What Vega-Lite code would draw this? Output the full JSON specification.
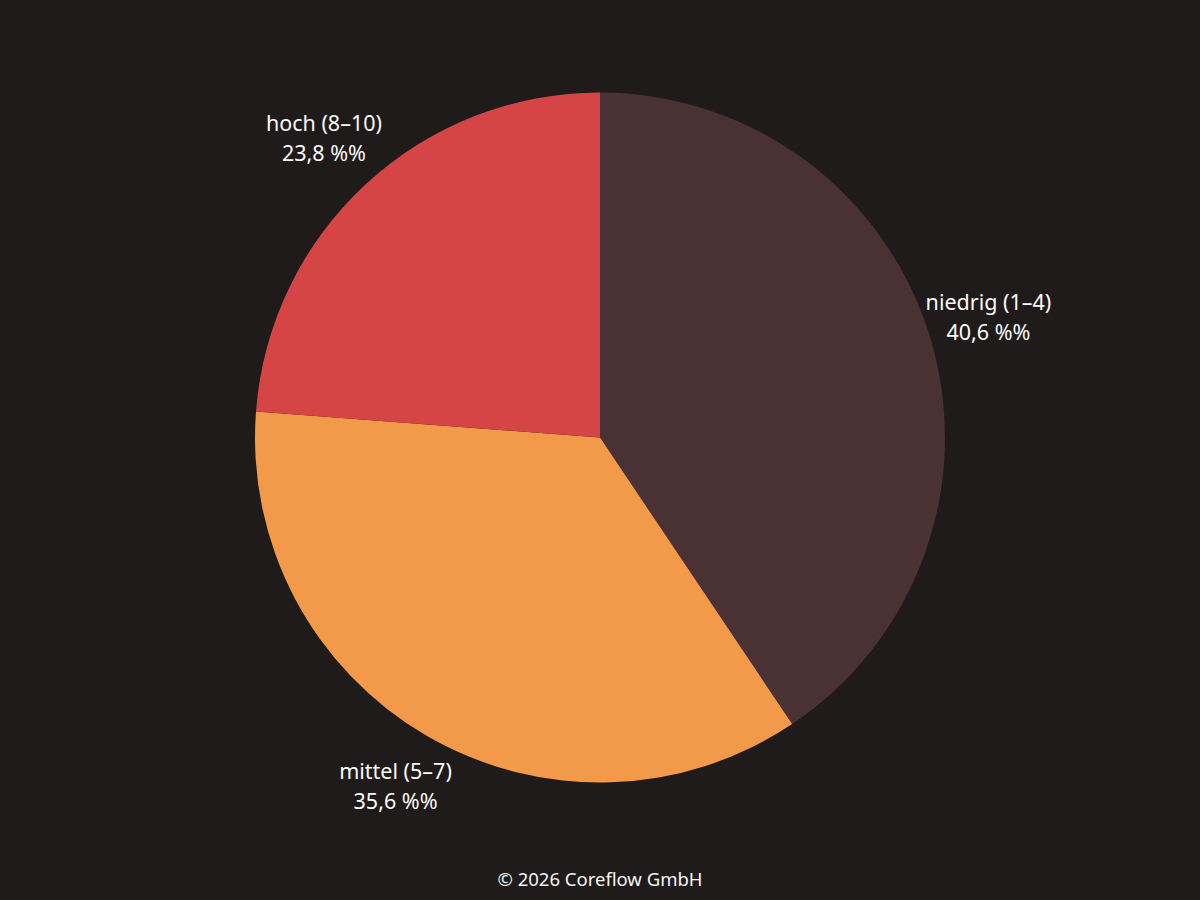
{
  "$schema": "https://vega.github.io/schema/vega-lite/v6.json",
  "width": 1200,
  "height": 900,
  "autosize": {"type": "fit", "contains": "padding"},
  "padding": {"top": 0, "left": 0, "right": 0, "bottom": 10},
  "background": "#1f1b1b",
  "config": {"view": {"stroke": null}, "font": "Noto Sans"},
  "title": {"text": "© 2026 Coreflow GmbH", "orient": "bottom", "color": "#f5f5f5", "fontSize": 18.5, "fontWeight": "normal", "font": "Noto Sans", "offset": 0, "dy": -4},
  "data": {"values": [
    {"category": "niedrig (1–4)", "value": 40.6, "label": "niedrig (1–4)\n40,6 %%"},
    {"category": "mittel (5–7)", "value": 35.6, "label": "mittel (5–7)\n35,6 %%"},
    {"category": "hoch (8–10)", "value": 23.8, "label": "hoch (8–10)\n23,8 %%"}
  ]},
  "encoding": {
    "theta": {"field": "value", "type": "quantitative", "stack": true},
    "order": {"field": "value", "sort": "descending"}
  },
  "layer": [
    {
      "mark": {"type": "arc", "outerRadius": 345},
      "encoding": {
        "color": {"field": "category", "type": "nominal", "legend": null,
          "scale": {"domain": ["niedrig (1–4)", "mittel (5–7)", "hoch (8–10)"], "range": ["#4a3133", "#f29a4a", "#d64545"]}}
      }
    },
    {
      "mark": {"type": "text", "radius": 406, "fontSize": 21.5, "lineBreak": "\n", "lineHeight": 30, "dy": -15, "color": "#fafafa", "align": "center", "baseline": "middle", "font": "Noto Sans"},
      "encoding": {"text": {"field": "label"}}
    }
  ]
}
